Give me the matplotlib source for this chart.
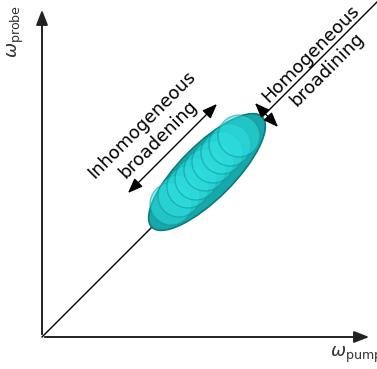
import matplotlib
matplotlib.use("Agg")
import matplotlib.pyplot as plt
from matplotlib.patches import Ellipse, Circle

# positions along the diagonal (omega_pump = omega_probe), pixel-ish units
circle_pos = [131, 139, 148, 156, 165, 173, 182, 190, 199]
circle_r = 21
ell_center = 165
ell_major = 156
ell_minor = 54

fig = plt.figure(figsize=(3.77, 3.69), dpi=100)
ax = fig.add_axes([0, 0, 1, 1])
ax.set_xlim(-42, 335)
ax.set_ylim(-32, 337)
ax.set_aspect("equal")
ax.axis("off")

# axes arrows
arr = dict(arrowstyle="-|>,head_length=0.9,head_width=0.35", color="#222222", lw=1.4)
ax.annotate("", xy=(0, 330), xytext=(0, 0), arrowprops=arr)
ax.annotate("", xy=(330, 0), xytext=(0, 0), arrowprops=arr)

# diagonal
ax.plot([0, 335], [0, 335], color="black", lw=1.0, zorder=1)

# inhomogeneous envelope
ax.add_patch(Ellipse((ell_center, ell_center), ell_major, ell_minor, angle=45,
                     facecolor="#17a8ab", edgecolor="#0c7a7d", lw=1.2, zorder=2))
for p in circle_pos:
    ax.add_patch(Circle((p - 2, p + 2), circle_r, facecolor="#2ee0e2", edgecolor="#0f8f92",
                        alpha=0.5, lw=1.0, zorder=3))

# inhomogeneous broadening arrow + label
darr = dict(arrowstyle="<|-|>,head_length=0.9,head_width=0.35", color="black", lw=1.0)
ax.annotate("", xy=(177, 235), xytext=(84, 142), arrowprops=darr)
ax.text(108, 205, "Inhomogeneous\nbroadening", rotation=45, ha="center", va="center",
        fontsize=13, linespacing=1.3)

# homogeneous broadening arrow + label
ax.annotate("", xy=(211, 236), xytext=(238, 208), arrowprops=darr)
ax.text(277, 275, "Homogeneous\nbroadining", rotation=45, ha="center", va="center",
        fontsize=13, linespacing=1.3)

# axis labels
ax.text(-26, 306, r"$\omega_{\mathrm{probe}}$", rotation=90, ha="center", va="center",
        fontsize=13, color="#333333")
ax.text(314, -18, r"$\omega_{\mathrm{pump}}$", ha="center", va="center",
        fontsize=13, color="#333333")

fig.savefig("out.png", dpi=100)
